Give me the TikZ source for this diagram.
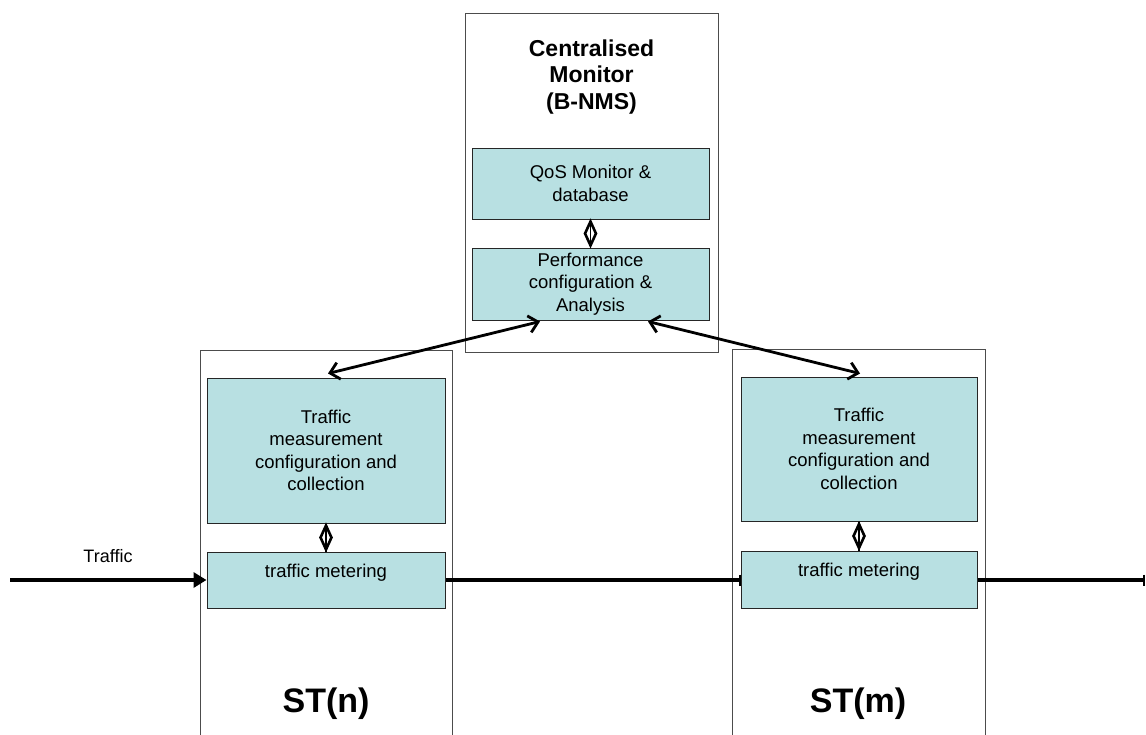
\documentclass[tikz,border=0pt]{standalone}
\usepackage{fontspec}
\setmainfont{Liberation Sans}
\usetikzlibrary{arrows.meta,shapes.geometric}
\definecolor{boxfill}{RGB}{184,224,226}
\begin{document}
\begin{tikzpicture}[x=1pt,y=-1pt,
  outerbox/.style={draw=black!70, line width=1pt, rectangle, inner sep=0},
  innerbox/.style={draw=black!85, line width=1pt, fill=boxfill, rectangle, inner sep=0, align=center, font=\fontsize{18.5}{22.5}\selectfont},
  boldtxt/.style={font=\bfseries\fontsize{23}{26.5}\selectfont, align=center, inner sep=0},
  sttxt/.style={font=\bfseries\fontsize{34}{40}\selectfont, inner sep=0},
  traffic/.style={line width=3.5pt},
  biarrow/.style={line width=2.8pt, {Straight Barb[length=9pt,width=17pt]}-{Straight Barb[length=9pt,width=17pt]}},
  link/.style={line width=1.5pt},
  dmd/.style={diamond, draw, line width=2.6pt, minimum width=12, minimum height=25, inner sep=0, aspect=0.45}
]
\useasboundingbox (0,0) rectangle (1146,734);

% central monitor
\node[outerbox, minimum width=253, minimum height=339] (cm) at (591.5,182.5) {};
\node[boldtxt] (title) at (591.5,77) {Centralised\\Monitor\\(B-NMS)};
\node[innerbox, minimum width=237, minimum height=71] (qos) at (590.5,183.5) {QoS Monitor \&\\database};
\node[innerbox, minimum width=237, minimum height=72] (perf) at (590.5,284) {Performance\\configuration \&\\Analysis};

% left station
\node[outerbox, minimum width=252, minimum height=395] (stn) at (326,547.5) {};
\node[innerbox, minimum width=238, minimum height=145] (tmL) at (326,450.5) {Traffic\\measurement\\configuration and\\collection};
\node[innerbox, minimum width=238, minimum height=56,
  label={[anchor=north, inner sep=0, yshift=-12.5pt, font=\fontsize{18.5}{22.5}\selectfont]north:traffic metering}] (mL) at (326,580) {};
\node[sttxt] (stnlab) at (326,704) {ST(n)};

% right station
\node[outerbox, minimum width=253, minimum height=396] (stm) at (858.5,547) {};
\node[innerbox, minimum width=236, minimum height=144] (tmR) at (859,449) {Traffic\\measurement\\configuration and\\collection};
\node[innerbox, minimum width=236, minimum height=57,
  label={[anchor=north, inner sep=0, yshift=-12.5pt, font=\fontsize{18.5}{22.5}\selectfont]north:traffic metering}] (mR) at (859,579.5) {};
\node[sttxt] (stmlab) at (858,704) {ST(m)};

% diamond links
\draw[link] (qos.south) -- (perf.north) node[midway, dmd] {};
\draw[link] (tmL.south) -- (mL.north) node[midway, dmd] {};
\draw[link] (tmR.south) -- (mR.north) node[midway, dmd] {};

% bidirectional arrows
\draw[biarrow] ([xshift=2pt,yshift=4pt]tmL.north) -- ([xshift=-50.5pt,yshift=-1pt]perf.south);
\draw[biarrow] ([xshift=57.5pt,yshift=-1pt]perf.south) -- ([xshift=1pt,yshift=3pt]tmR.north);

% traffic line
\node[font=\fontsize{18}{22}\selectfont, inner sep=0] (trlab) at (108,556) {Traffic};
\coordinate (tin) at (10,580);
\coordinate (tout) at (1145,580);
\draw[traffic, -{Triangle[length=13pt,width=15pt]}] (tin) -- (mL.west);
\draw[traffic, -{Bar[width=11pt,line width=2pt]}] (mL.east) -- (mL.east -| mR.west);
\draw[traffic, -{Bar[width=11pt,line width=2pt]}] (mL.east -| mR.east) -- (tout);
\end{tikzpicture}
\end{document}
